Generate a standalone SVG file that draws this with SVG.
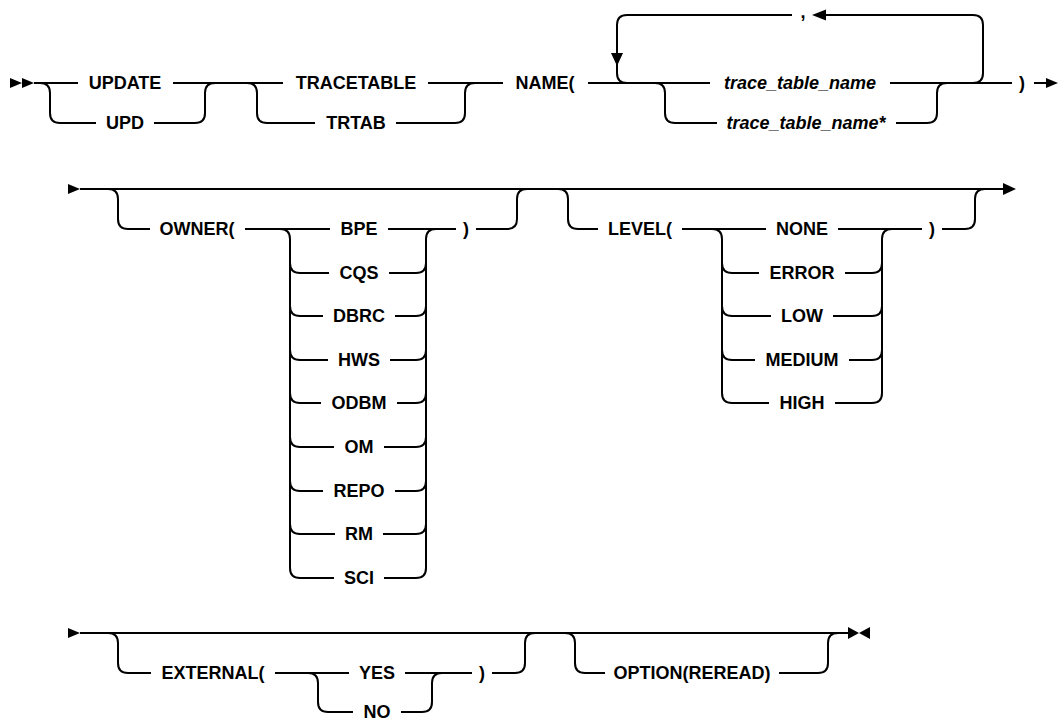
<svg xmlns="http://www.w3.org/2000/svg" width="1058" height="721" viewBox="0 0 1058 721">
<style>
.t{font-family:"Liberation Sans",Arial,sans-serif;font-size:18px;font-weight:bold;text-anchor:middle;fill:#000}
.i{font-style:italic}
.c{fill:none;stroke:#000;stroke-width:2}
.a{fill:#000;stroke:none}
</style>
<rect width="1058" height="721" fill="#fff"/>
<g id="connectors">
<!-- row 1 -->
<path class="a" d="M10,78 L22,83 L10,88 Z M22,78 L34,83 L22,88 Z"/>
<path class="c" d="M34,83 H78 M173,83 H283 M428,83 H503 M588,83 H710 M890,83 H1012 M1034,83 H1048"/>
<path class="a" d="M1046,78 L1058,83 L1046,88 Z"/>
<path class="c" d="M40,83 Q50,83 50,93 V113 Q50,123 60,123 H96 M154,123 H195 Q205,123 205,113 V93 Q205,83 215,83"/>
<path class="c" d="M247,83 Q257,83 257,93 V113 Q257,123 267,123 H315 M396,123 H455 Q465,123 465,113 V93 Q465,83 475,83"/>
<path class="c" d="M655,83 Q665,83 665,93 V113 Q665,123 675,123 H717 M896,123 H927 Q937,123 937,113 V93 Q937,83 947,83"/>
<path class="c" d="M792,15 H627 Q617,15 617,25 V73 Q617,83 627,83 M826,15 H973 Q983,15 983,25 V73 Q983,83 973,83"/>
<path class="a" d="M611,53 H623 L617,66 Z M812,15 L826,9.5 V20.5 Z"/>
<!-- row 2 -->
<path class="a" d="M68,184 L80,189 L68,194 Z M1003,183 L1016,189 L1003,195 Z"/>
<path class="c" d="M80,189 H1003"/>
<path class="c" d="M108,189 Q118,189 118,199 V219 Q118,229 128,229 H150 M245,229 H330 M388,229 H456 M476,229 H507 Q517,229 517,219 V199 Q517,189 527,189"/>
<path class="c" d="M280,229 Q290,229 290,239 V568 Q290,578 300,578 H334 M384,578 H416 Q426,578 426,568 V239 Q426,229 436,229"/>
<path class="c" d="M290,263 Q290,273 300,273 H329 M389,273 H416 Q426,273 426,263
M290,306 Q290,316 300,316 H323 M395,316 H416 Q426,316 426,306
M290,350 Q290,360 300,360 H328 M390,360 H416 Q426,360 426,350
M290,393 Q290,403 300,403 H321 M397,403 H416 Q426,403 426,393
M290,437 Q290,447 300,447 H334 M384,447 H416 Q426,447 426,437
M290,481 Q290,491 300,491 H323 M395,491 H416 Q426,491 426,481
M290,524 Q290,534 300,534 H335 M383,534 H416 Q426,534 426,524"/>
<path class="c" d="M558,189 Q568,189 568,199 V219 Q568,229 578,229 H598 M682,229 H766 M838,229 H922 M942,229 H965 Q975,229 975,219 V199 Q975,189 985,189"/>
<path class="c" d="M712,229 Q722,229 722,239 V393 Q722,403 732,403 H769 M835,403 H872 Q882,403 882,393 V239 Q882,229 892,229"/>
<path class="c" d="M722,263 Q722,273 732,273 H759 M845,273 H872 Q882,273 882,263
M722,306 Q722,316 732,316 H771 M833,316 H872 Q882,316 882,306
M722,350 Q722,360 732,360 H755 M849,360 H872 Q882,360 882,350"/>
<!-- row 3 -->
<path class="a" d="M68,628 L80,633 L68,638 Z M848,627 L859,633 L848,639 Z M870,627 L859,633 L870,639 Z"/>
<path class="c" d="M80,633 H848"/>
<path class="c" d="M108,633 Q118,633 118,643 V663 Q118,673 128,673 H151 M275,673 H349 M405,673 H472 M492,673 H515 Q525,673 525,663 V643 Q525,633 535,633"/>
<path class="c" d="M308,673 Q318,673 318,683 V702 Q318,712 328,712 H353 M401,712 H422 Q432,712 432,702 V683 Q432,673 442,673"/>
<path class="c" d="M565,633 Q575,633 575,643 V663 Q575,673 585,673 H605 M779,673 H818 Q828,673 828,663 V643 Q828,633 838,633"/>
</g>
<g id="n-update"><text class="t" x="125" y="89">UPDATE</text></g>
<g id="n-upd"><text class="t" x="125" y="129">UPD</text></g>
<g id="n-tracetable"><text class="t" x="356" y="89">TRACETABLE</text></g>
<g id="n-trtab"><text class="t" x="356" y="129">TRTAB</text></g>
<g id="n-name"><text class="t" x="545" y="89">NAME(</text></g>
<g id="n-comma"><text class="t" x="803" y="18">,</text></g>
<g id="n-ttn"><text class="t i" x="800" y="89">trace_table_name</text></g>
<g id="n-ttn2"><text class="t i" x="806" y="129">trace_table_name*</text></g>
<g id="n-close1"><text class="t" x="1022" y="89">)</text></g>
<g id="n-owner"><text class="t" x="197" y="235">OWNER(</text></g>
<g id="n-bpe"><text class="t" x="359" y="235">BPE</text></g>
<g id="n-cqs"><text class="t" x="359" y="279">CQS</text></g>
<g id="n-dbrc"><text class="t" x="359" y="322">DBRC</text></g>
<g id="n-hws"><text class="t" x="359" y="366">HWS</text></g>
<g id="n-odbm"><text class="t" x="359" y="409">ODBM</text></g>
<g id="n-om"><text class="t" x="359" y="453">OM</text></g>
<g id="n-repo"><text class="t" x="359" y="497">REPO</text></g>
<g id="n-rm"><text class="t" x="359" y="540">RM</text></g>
<g id="n-sci"><text class="t" x="359" y="584">SCI</text></g>
<g id="n-close2"><text class="t" x="466" y="235">)</text></g>
<g id="n-level"><text class="t" x="640" y="235">LEVEL(</text></g>
<g id="n-none"><text class="t" x="802" y="235">NONE</text></g>
<g id="n-error"><text class="t" x="802" y="279">ERROR</text></g>
<g id="n-low"><text class="t" x="802" y="322">LOW</text></g>
<g id="n-medium"><text class="t" x="802" y="366">MEDIUM</text></g>
<g id="n-high"><text class="t" x="802" y="409">HIGH</text></g>
<g id="n-close3"><text class="t" x="932" y="235">)</text></g>
<g id="n-external"><text class="t" x="213" y="679">EXTERNAL(</text></g>
<g id="n-yes"><text class="t" x="377" y="679">YES</text></g>
<g id="n-no"><text class="t" x="377" y="718">NO</text></g>
<g id="n-close4"><text class="t" x="482" y="679">)</text></g>
<g id="n-option"><text class="t" x="692" y="679">OPTION(REREAD)</text></g>
</svg>
